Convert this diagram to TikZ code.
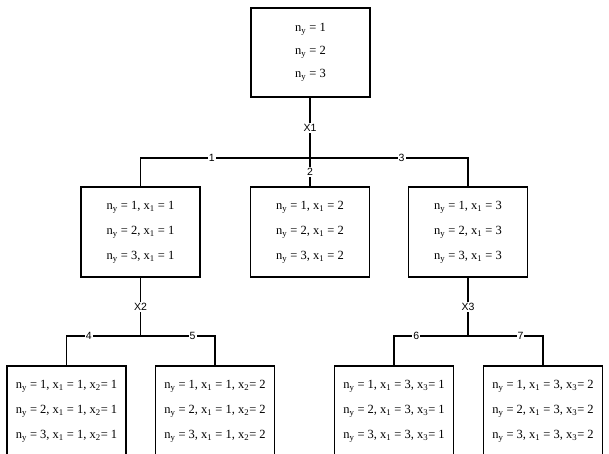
\documentclass[tikz,border=0pt]{standalone}
\usepackage{fontspec}
\setmainfont{Liberation Serif}
\setsansfont{Liberation Sans}
\usetikzlibrary{positioning}

\newcommand{\nsub}{n\textsubscript{y}}
\newcommand{\xsub}[1]{x\textsubscript{#1}}

\begin{document}
\begin{tikzpicture}[x=1pt, y=-1pt,
    block/.style={rectangle, draw, line width=1.6pt, minimum width=119pt, minimum height=90pt, align=center, font=\fontsize{12.5}{25}\selectfont},
    line/.style={line width=1.4pt},
    signal/.style={font=\sffamily\fontsize{10.5}{12}\selectfont, fill=white, inner sep=1pt}
]
\useasboundingbox (0,0) rectangle (609,454);
\clip (0,0) rectangle (609,454);

\node[block, minimum height=89pt, font=\fontsize{12.5}{23}\selectfont] (root) at (310.5,52.5) {\nsub{} = 1\\ \nsub{} = 2\\ \nsub{} = 3};

\node[block] (a) at (140.5,232) {\nsub{} = 1, \xsub{1} = 1\\ \nsub{} = 2, \xsub{1} = 1\\ \nsub{} = 3, \xsub{1} = 1};
\node[block] (b) at (310,232) {\nsub{} = 1, \xsub{1} = 2\\ \nsub{} = 2, \xsub{1} = 2\\ \nsub{} = 3, \xsub{1} = 2};
\node[block] (c) at (468,232) {\nsub{} = 1, \xsub{1} = 3\\ \nsub{} = 2, \xsub{1} = 3\\ \nsub{} = 3, \xsub{1} = 3};

\node[block] (aa) at (66.5,411) {\nsub{} = 1, \xsub{1} = 1, \xsub{2}= 1\\ \nsub{} = 2, \xsub{1} = 1, \xsub{2}= 1\\ \nsub{} = 3, \xsub{1} = 1, \xsub{2}= 1};
\node[block] (ab) at (215,411) {\nsub{} = 1, \xsub{1} = 1, \xsub{2}= 2\\ \nsub{} = 2, \xsub{1} = 1, \xsub{2}= 2\\ \nsub{} = 3, \xsub{1} = 1, \xsub{2}= 2};
\node[block] (ca) at (394,411) {\nsub{} = 1, \xsub{1} = 3, \xsub{3}= 1\\ \nsub{} = 2, \xsub{1} = 3, \xsub{3}= 1\\ \nsub{} = 3, \xsub{1} = 3, \xsub{3}= 1};
\node[block] (cb) at (543,411) {\nsub{} = 1, \xsub{1} = 3, \xsub{3}= 2\\ \nsub{} = 2, \xsub{1} = 3, \xsub{3}= 2\\ \nsub{} = 3, \xsub{1} = 3, \xsub{3}= 2};

% junctions
\coordinate (j1) at (310,158);
\coordinate (j2) at (140.5,336);
\coordinate (j3) at (468,336);

\draw[line] (root.south -| j1) -- node[signal] {X1} (j1);
\draw[line] (j1) -| node[signal, pos=0.29] {1} (a.north);
\draw[line] (j1) -- node[signal] {2} (b.north);
\draw[line] (j1) -| node[signal, pos=0.29] {3} (c.north);

\draw[line] (a.south) -- node[signal] {X2} (j2);
\draw[line] (j2) -| node[signal, pos=0.35] {4} (aa.north);
\draw[line] (j2) -| node[signal, pos=0.35] {5} (ab.north);

\draw[line] (c.south) -- node[signal] {X3} (j3);
\draw[line] (j3) -| node[signal, pos=0.35] {6} (ca.north);
\draw[line] (j3) -| node[signal, pos=0.35] {7} (cb.north);

\end{tikzpicture}
\end{document}
